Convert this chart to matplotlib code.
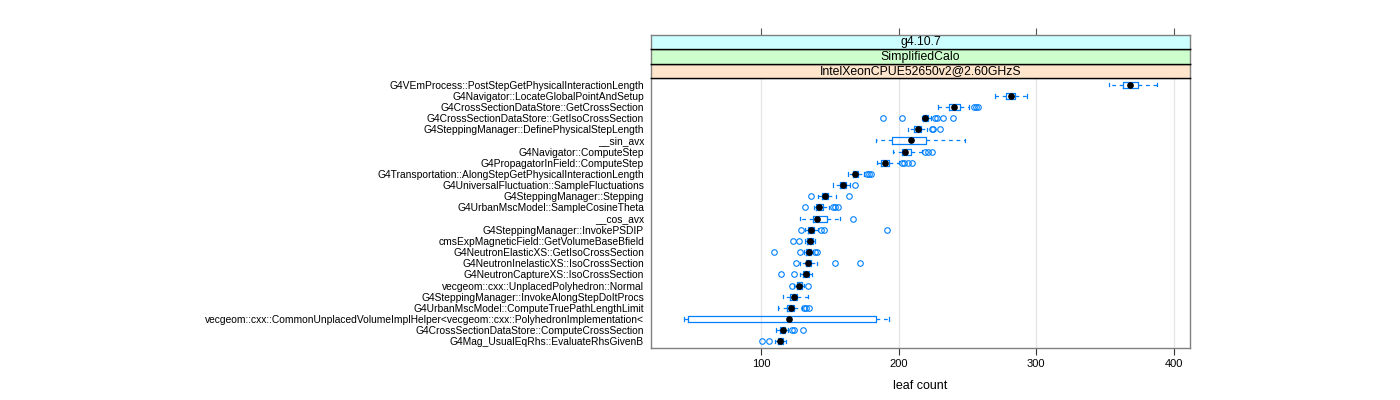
import numpy as np
import matplotlib
matplotlib.use('Agg')
import matplotlib.pyplot as plt

plt.rcParams['font.family'] = ['Liberation Sans', 'DejaVu Sans']

# Datos (de arriba hacia abajo)
funciones = [
    'G4VEmProcess::PostStepGetPhysicalInteractionLength',
    'G4Navigator::LocateGlobalPointAndSetup',
    'G4CrossSectionDataStore::GetCrossSection',
    'G4CrossSectionDataStore::GetIsoCrossSection',
    'G4SteppingManager::DefinePhysicalStepLength',
    '__sin_avx',
    'G4Navigator::ComputeStep',
    'G4PropagatorInField::ComputeStep',
    'G4Transportation::AlongStepGetPhysicalInteractionLength',
    'G4UniversalFluctuation::SampleFluctuations',
    'G4SteppingManager::Stepping',
    'G4UrbanMscModel::SampleCosineTheta',
    '__cos_avx',
    'G4SteppingManager::InvokePSDIP',
    'cmsExpMagneticField::GetVolumeBaseBfield',
    'G4NeutronElasticXS::GetIsoCrossSection',
    'G4NeutronInelasticXS::IsoCrossSection',
    'G4NeutronCaptureXS::IsoCrossSection',
    'vecgeom::cxx::UnplacedPolyhedron::Normal',
    'G4SteppingManager::InvokeAlongStepDoItProcs',
    'G4UrbanMscModel::ComputeTruePathLengthLimit',
    'vecgeom::cxx::CommonUnplacedVolumeImplHelper<vecgeom::cxx::PolyhedronImplementation<',
    'G4CrossSectionDataStore::ComputeCrossSection',
    'G4Mag_UsualEqRhs::EvaluateRhsGivenB',
]
bigote_inf = [352.9, 269.7, 228.8, 216.8, 206.4, 183.5, 196.0, 183.8, 162.7, 152.3, 141.4, 138.2,
              127.8, 131.7, 131.5, 131.0, 128.4, 128.4, 123.9, 115.4, 112.2, 43.5, 110.7, 110.2]
q1 = [363.1, 277.7, 236.9, 217.4, 211.1, 194.7, 202.0, 187.4, 166.6, 157.5, 144.0, 139.8,
      137.7, 134.1, 133.0, 132.5, 132.3, 130.4, 125.8, 121.1, 118.7, 46.9, 113.5, 111.7]
mediana = [368.5, 281.6, 240.5, 219.2, 213.7, 208.8, 204.3, 189.8, 168.4, 159.6, 146.0, 142.2,
           140.6, 136.2, 135.1, 134.3, 134.1, 132.5, 127.6, 123.4, 121.3, 120.3, 115.4, 113.3]
q3 = [374.2, 284.5, 244.2, 221.3, 216.0, 220.0, 209.0, 192.6, 170.5, 161.9, 148.4, 144.8,
      147.6, 138.0, 137.2, 136.2, 136.4, 134.3, 129.7, 125.8, 123.7, 183.5, 117.2, 115.6]
bigote_sup = [388.0, 293.6, 251.2, 223.3, 220.7, 248.3, 216.8, 199.9, 174.7, 164.3, 154.4, 149.2,
              157.0, 140.9, 138.8, 137.5, 140.6, 136.7, 131.0, 133.6, 129.7, 192.6, 119.3, 118.0]
atipicos = [
    [],
    [],
    [254.6, 256.4, 258.0],
    [188.5, 202.0, 226.0, 228.0, 232.0, 239.7],
    [223.9, 225.2, 229.8],
    [],
    [219.4, 221.5, 224.1],
    [202.0, 203.8, 206.4, 209.5],
    [176.8, 178.3, 179.9],
    [168.2],
    [136.4, 164.0],
    [131.5, 152.0, 153.9, 155.7],
    [166.9],
    [128.6, 143.2, 145.5, 191.3],
    [122.9, 127.3],
    [109.4, 128.1, 138.8, 140.6],
    [125.0, 153.6, 171.6],
    [114.3, 123.4],
    [122.4, 133.8],
    [],
    [131.2, 132.5, 134.6],
    [],
    [122.6, 123.7, 130.2],
    [100.5, 105.5],
]
tiras = ['g4.10.7', 'SimplifiedCalo', 'IntelXeonCPUE52650v2@2.60GHzS']
colores_tira = ['#ccffff', '#ccffcc', '#ffe5cc']
ticks_x = [100, 200, 300, 400]

azul = '#0080ff'
n = len(funciones)
pos = np.arange(n, 0, -1)

stats = []
for i in range(n):
    stats.append({'whislo': bigote_inf[i], 'q1': q1[i], 'med': mediana[i],
                  'q3': q3[i], 'whishi': bigote_sup[i], 'fliers': atipicos[i]})

fig = plt.figure(figsize=(14, 4), dpi=100)
ax = fig.add_axes([0.465, 0.13, 0.385, 0.675])

for t in ticks_x:
    ax.axvline(t, color='#e6e6e6', lw=1, zorder=0)

ax.bxp(stats, positions=pos, orientation='horizontal', widths=0.55, capwidths=0.3,
       showfliers=True,
       boxprops=dict(color=azul, lw=0.9),
       whiskerprops=dict(color=azul, lw=0.9, linestyle=(0, (3, 3))),
       capprops=dict(color=azul, lw=0.9),
       medianprops=dict(linestyle='none'),
       flierprops=dict(marker='o', markerfacecolor='none', markeredgecolor=azul,
                       markersize=4.0, markeredgewidth=0.8))
ax.plot(mediana, pos, 'o', color='black', markersize=3.8, zorder=5)

ax.set_xlim(19.6, 412)
ax.set_ylim(0.4, n + 0.6)
ax.set_xticks(ticks_x)
ax.set_xticklabels([str(t) for t in ticks_x])
ax.set_yticks(pos)
ax.set_yticklabels(funciones, fontsize=7.4)
ax.tick_params(axis='y', length=0, pad=5)
ax.tick_params(axis='x', length=5, color='#333333', labelsize=8, pad=3)
for s in ax.spines.values():
    s.set_color('#808080')
    s.set_linewidth(1.0)
ax.set_xlabel('leaf count', fontsize=9, labelpad=8)

# Tiras superiores
alto = 0.0358
for k, (txt, col) in enumerate(zip(tiras[::-1], colores_tira[::-1])):
    sa = fig.add_axes([0.465, 0.805 + k * alto, 0.385, alto], sharex=ax)
    sa.set_facecolor(col)
    sa.set_yticks([])
    sa.text(0.5, 0.5, txt, transform=sa.transAxes, ha='center', va='center', fontsize=8.8)
    for nombre, s in sa.spines.items():
        s.set_linewidth(1.0)
        s.set_color('black' if nombre in ('top', 'bottom') else '#808080')
    if k == len(tiras) - 1:
        sa.xaxis.tick_top()
        sa.tick_params(axis='x', length=5, color='#555555', labeltop=False)
        sa.spines['top'].set_color('#808080')
    else:
        sa.tick_params(axis='x', length=0, labelbottom=False)

fig.savefig('out.png', dpi=100)
